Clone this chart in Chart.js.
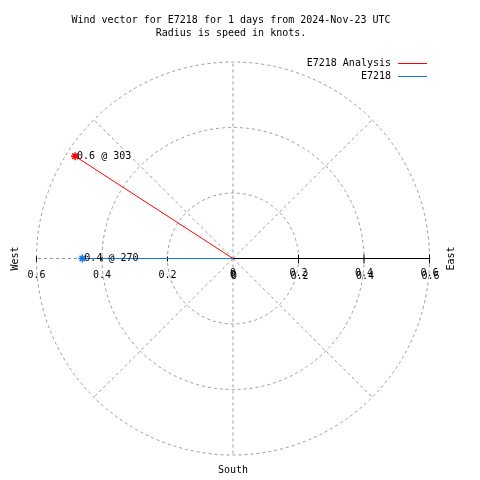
<!DOCTYPE html>
<html><head><meta charset="utf-8">
<script src="https://cdn.jsdelivr.net/npm/chart.js@4/dist/chart.umd.min.js"></script>
<style>html,body{margin:0;padding:0;background:#fff}#wrap{width:480px;height:480px}</style>
</head><body><div id="wrap"><canvas id="c" width="480" height="480"></canvas></div>
<script>
const titleLines = ["Wind vector for E7218 for 1 days from 2024-Nov-23 UTC", "Radius is speed in knots."];
const seriesNames = ["E7218 Analysis", "E7218"];
const seriesColors = ["#ff0000", "#1278ea"];
const speeds = [0.575, 0.46];
const directions = [303, 270];
const pointLabels = ["0.6 @ 303", "0.4 @ 270"];
const ringValues = [0.2, 0.4, 0.6];
const tickValues = [0, 0.2, 0.4, 0.6];
const tickLabels = ["0", "0.2", "0.4", "0.6"];
const compassLabels = ["West", "East", "South"];
const maxR = 0.6;
const FONT = '10px "DejaVu Sans Mono", monospace';

const datasets = speeds.map((s, i) => {
  const a = directions[i] * Math.PI / 180;
  return {
    label: seriesNames[i],
    data: [{x: 0, y: 0}, {x: s * Math.sin(a), y: s * Math.cos(a)}],
    borderColor: seriesColors[i],
    backgroundColor: seriesColors[i],
    borderWidth: 1,
    showLine: true,
    pointStyle: 'star',
    pointRadius: [0, 4],
    pointBorderWidth: 1.5,
    order: i === 0 ? 1 : 0
  };
});

const polarPlugin = {
  id: 'polar',
  beforeDatasetsDraw(chart) {
    const ctx = chart.ctx, xs = chart.scales.x, ys = chart.scales.y;
    const cx = xs.getPixelForValue(0), cy = ys.getPixelForValue(0);
    const pr = v => xs.getPixelForValue(v) - cx;
    ctx.save();
    ctx.strokeStyle = '#999';
    ctx.lineWidth = 1;
    ctx.setLineDash([3, 3]);
    ringValues.forEach(v => {
      ctx.beginPath(); ctx.arc(cx, cy, pr(v), 0, Math.PI * 2); ctx.stroke();
    });
    for (let d = 0; d < 360; d += 45) {
      if (d === 90) continue;
      const a = d * Math.PI / 180;
      ctx.beginPath();
      ctx.moveTo(cx, cy);
      ctx.lineTo(xs.getPixelForValue(maxR * Math.sin(a)), ys.getPixelForValue(maxR * Math.cos(a)));
      ctx.stroke();
    }
    ctx.setLineDash([]);
    // east axis line
    ctx.strokeStyle = '#000';
    ctx.beginPath(); ctx.moveTo(cx, cy); ctx.lineTo(xs.getPixelForValue(maxR), cy); ctx.stroke();
    tickValues.forEach(v => {
      if (v === 0) return;
      const px = xs.getPixelForValue(v);
      ctx.beginPath(); ctx.moveTo(px, cy - 4); ctx.lineTo(px, cy + 5); ctx.stroke();
      const nx = xs.getPixelForValue(-v);
      ctx.beginPath(); ctx.moveTo(nx, cy - 2); ctx.lineTo(nx, cy + 3); ctx.stroke();
    });
    ctx.restore();
  },
  afterDatasetsDraw(chart) {
    const ctx = chart.ctx, xs = chart.scales.x, ys = chart.scales.y;
    const cx = xs.getPixelForValue(0), cy = ys.getPixelForValue(0);
    ctx.save();
    ctx.font = FONT;
    ctx.fillStyle = '#000';
    ctx.textAlign = 'center'; ctx.textBaseline = 'middle';
    ctx.fillText(titleLines[0], 231, 20);
    ctx.fillText(titleLines[1], 231, 33);
    tickValues.forEach((v, i) => {
      ctx.fillText(tickLabels[i], xs.getPixelForValue(-v), cy + 17);
      ctx.fillText(tickLabels[i], xs.getPixelForValue(v), cy + 15);
      ctx.fillText(tickLabels[i], xs.getPixelForValue(v) + 1, cy + 18);
    });
    ctx.textAlign = 'left';
    chart.data.datasets.forEach((ds, i) => {
      const p = ds.data[1];
      ctx.fillText(pointLabels[i], xs.getPixelForValue(p.x) + 2, ys.getPixelForValue(p.y));
    });
    ctx.textAlign = 'center';
    ctx.fillText(compassLabels[2], cx, 470);
    ctx.save(); ctx.translate(15, cy); ctx.rotate(-Math.PI / 2); ctx.fillText(compassLabels[0], 0, 0); ctx.restore();
    ctx.save(); ctx.translate(451, cy); ctx.rotate(-Math.PI / 2); ctx.fillText(compassLabels[1], 0, 0); ctx.restore();
    ctx.textAlign = 'right';
    seriesNames.forEach((n, i) => {
      const y = 63 + i * 13;
      ctx.fillStyle = '#000';
      ctx.fillText(n, 391, y);
      ctx.strokeStyle = seriesColors[i];
      ctx.lineWidth = 1;
      ctx.beginPath(); ctx.moveTo(398, y + 0.5); ctx.lineTo(427, y + 0.5); ctx.stroke();
    });
    ctx.restore();
  }
};

new Chart(document.getElementById('c'), {
  type: 'scatter',
  data: { datasets },
  options: {
    responsive: false,
    animation: false,
    devicePixelRatio: 1,
    layout: { padding: { left: 36.5, right: 50.5, top: 62.5, bottom: 25.5 } },
    plugins: { legend: { display: false }, title: { display: false }, tooltip: { enabled: false } },
    scales: {
      x: { type: 'linear', min: -maxR, max: maxR, display: false },
      y: { type: 'linear', min: -maxR, max: maxR, display: false }
    }
  },
  plugins: [polarPlugin]
});
</script></body></html>
